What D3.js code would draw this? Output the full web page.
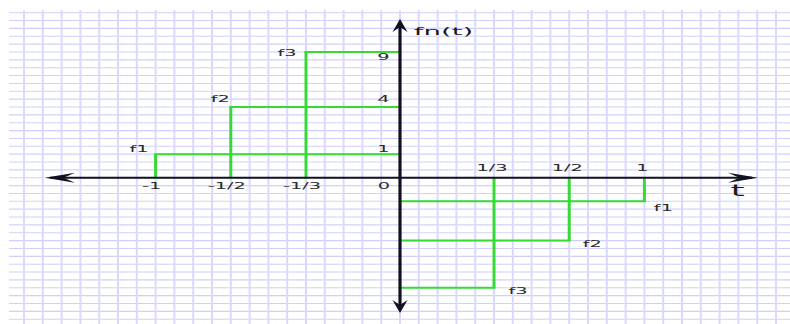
<!DOCTYPE html>
<html>
<head>
<meta charset="utf-8">
<script src="https://d3js.org/d3.v7.min.js"></script>
<style>
body {margin: 0; background: #fff;}
svg {display: block;}
text {font-family: "DejaVu Sans", sans-serif;}
</style>
</head>
<body>
<div id="chart"></div>
<script>
// step functions f1, f2, f3 : height n^2 on [-1/n, 0] and -n^2 on [0, 1/n]
var names = ["f1", "f2", "f3"];
var leftStart = [-1, -1/2, -1/3];
var leftLevel = [1, 4, 9];
var rightEnd = [1, 1/2, 1/3];
var rightLevel = [-1, -4, -9];

var xTickVals = [-1, -1/2, -1/3, 1/3, 1/2, 1];
var xTickLabels = ["-1", "-1/2", "-1/3", "1/3", "1/2", "1"];
var yTickVals = [1, 4, 9];
var yTickLabels = ["1", "4", "9"];

var width = 790;
var height = 324;

var svg = d3.select("#chart").append("svg")
	.attr("width", width)
	.attr("height", height);

svg.append("rect")
	.attr("width", width)
	.attr("height", height)
	.attr("fill", "#ffffff");

// squared paper (stretched wide)
var gridX = d3.scaleLinear().domain([0, 40]).range([24, 776]);
var gridY = d3.scaleLinear().domain([0, 39]).range([12.7, 319.2]);

svg.append("g").selectAll("line")
	.data(d3.range(0, 40))
	.enter().append("line")
	.attr("x1", 9).attr("x2", width)
	.attr("y1", function(d) { return gridY(d); })
	.attr("y2", function(d) { return gridY(d); })
	.attr("stroke", "#d0d0fc")
	.attr("stroke-width", 1.1);

svg.append("g").selectAll("line")
	.data(d3.range(0, 41))
	.enter().append("line")
	.attr("y1", 10).attr("y2", height)
	.attr("x1", function(d) { return gridX(d); })
	.attr("x2", function(d) { return gridX(d); })
	.attr("stroke", "#d9d9ff")
	.attr("stroke-width", 2);

// the diagram is not to scale: ticks sit on chosen grid columns / rows
var x = d3.scaleLinear()
	.domain([-1, -1/2, -1/3, 0, 1/3, 1/2, 1])
	.range([7, 11, 15, 20, 25, 29, 33].map(gridX));
var y = d3.scaleLinear()
	.domain([-9, -4, -1, 0, 1, 4, 9])
	.range([35, 29, 24, 21, 18, 12, 5].map(gridY));

var x0 = x(0), y0 = y(0);
var green = "#36da36";

// step lines
var steps = svg.append("g");
names.forEach(function(nm, i) {
	steps.append("line")
		.attr("x1", x(leftStart[i])).attr("x2", x(leftStart[i]))
		.attr("y1", y0).attr("y2", y(leftLevel[i]))
		.attr("stroke", green).attr("stroke-width", 3);
	steps.append("line")
		.attr("x1", x(leftStart[i]) - 1.5).attr("x2", x0)
		.attr("y1", y(leftLevel[i])).attr("y2", y(leftLevel[i]))
		.attr("stroke", green).attr("stroke-width", 2);
	steps.append("line")
		.attr("x1", x0).attr("x2", x(rightEnd[i]) + 1.5)
		.attr("y1", y(rightLevel[i])).attr("y2", y(rightLevel[i]))
		.attr("stroke", green).attr("stroke-width", 2);
	steps.append("line")
		.attr("x1", x(rightEnd[i])).attr("x2", x(rightEnd[i]))
		.attr("y1", y0).attr("y2", y(rightLevel[i]))
		.attr("stroke", green).attr("stroke-width", 3);
});

// axes
var axisColor = "#111122";
svg.append("line")
	.attr("x1", 50).attr("x2", 752)
	.attr("y1", y0).attr("y2", y0)
	.attr("stroke", axisColor).attr("stroke-width", 2);
svg.append("line")
	.attr("x1", x0).attr("x2", x0)
	.attr("y1", 24).attr("y2", 308)
	.attr("stroke", axisColor).attr("stroke-width", 3.2);

function arrow(tx, ty, len, half, angle) {
	// barbed arrow head pointing along angle (degrees)
	svg.append("path")
		.attr("d", "M0,0 L" + (-len) + "," + (-half) + " L" + (-len * 0.62) + ",0 L" + (-len) + "," + half + " Z")
		.attr("transform", "translate(" + tx + "," + ty + ") rotate(" + angle + ")")
		.attr("fill", axisColor);
}
arrow(45, y0, 30, 5, 180);
arrow(758, y0, 30, 5, 0);
arrow(x0, 19, 13, 7.5, -90);
arrow(x0, 313, 13, 7.5, 90);

// text helper: the picture is stretched horizontally, so is its text
function label(str, cx, cy, size, sx, fill) {
	svg.append("g")
		.attr("transform", "translate(" + cx + "," + cy + ")")
		.append("text")
		.attr("transform", "scale(" + sx + ",1)")
		.attr("text-anchor", "middle")
		.attr("dy", "0.36em")
		.attr("font-size", size)
		.attr("fill", fill)
		.text(str);
}

var tickSize = 8.8, tickSx = 2.2, tickColor = "#2a2a2a";
xTickVals.forEach(function(v, i) {
	if (v < 0) label(xTickLabels[i], x(v) - 4, y0 + 8.5, tickSize, tickSx, tickColor);
	else label(xTickLabels[i], x(v) - 2, y0 - 9.8, tickSize, tickSx, tickColor);
});
label("0", x0 - 16, y0 + 8.5, tickSize, tickSx, tickColor);

var yNudge = [-5, -8, 5];
yTickVals.forEach(function(v, i) {
	label(yTickLabels[i], x0 - 16.5, y(v) + yNudge[i], tickSize, tickSx, tickColor);
});

var leftNudge = [[-16.5, -5], [-10.5, -8], [-19, 0.5]];
var rightNudge = [[19, 7], [23, 2.8], [24, 2.8]];
names.forEach(function(nm, i) {
	label(nm, x(leftStart[i]) + leftNudge[i][0], y(leftLevel[i]) + leftNudge[i][1], tickSize, tickSx, tickColor);
	label(nm, x(rightEnd[i]) + rightNudge[i][0], y(rightLevel[i]) + rightNudge[i][1], tickSize, tickSx, tickColor);
});

label("fn(t)", 443.5, 31.5, 11, 2.5, "#1a1a1a");
label("t", 737.5, 190.5, 16.5, 2.2, "#1a1a1a");
</script>
</body>
</html>
